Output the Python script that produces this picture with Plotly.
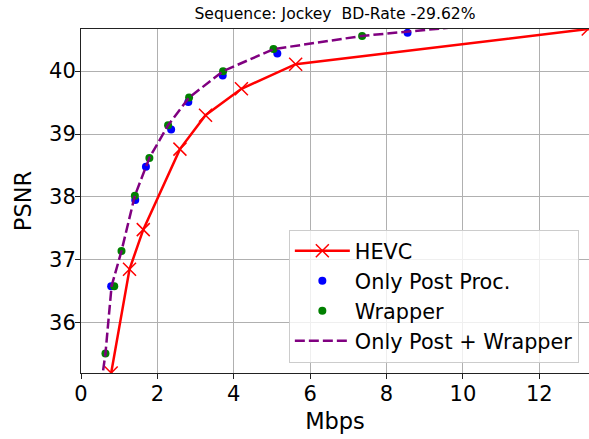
import plotly.graph_objects as go

title_text = "Sequence: Jockey  BD-Rate -29.62%"

hevc_rate = [0.79, 1.27, 1.63, 2.59, 3.26, 4.20, 5.62, 13.28]
hevc_psnr = [35.20, 36.85, 37.48, 38.76, 39.30, 39.72, 40.11, 40.67]

post_rate = [0.79, 1.42, 1.70, 2.36, 2.81, 3.71, 5.14, 8.55]
post_psnr = [36.58, 37.95, 38.48, 39.07, 39.51, 39.93, 40.28, 40.61]

wrap_rate = [0.64, 0.87, 1.06, 1.41, 1.79, 2.28, 2.83, 3.72, 5.04, 7.36]
wrap_psnr = [35.51, 36.58, 37.14, 38.02, 38.62, 39.14, 39.58, 40.00, 40.35, 40.56]

comb_rate = [0.48, 0.64, 0.80, 1.06, 1.41, 1.79, 2.28, 2.83, 3.72, 5.04, 7.36, 10.50]
comb_psnr = [34.80, 35.51, 36.58, 37.14, 38.02, 38.62, 39.14, 39.58, 40.00, 40.35, 40.56, 40.74]

x_range = [0, 13.3]
y_range = [35.2, 40.67]
x_ticks = [0, 2, 4, 6, 8, 10, 12]
y_ticks = [36, 37, 38, 39, 40]

FONT = "DejaVu Sans"

fig = go.Figure()
fig.add_trace(go.Scatter(
    x=hevc_rate, y=hevc_psnr, name="HEVC", mode="lines+markers",
    line=dict(color="red", width=2.5),
    marker=dict(symbol="x-thin", size=13, line=dict(color="red", width=1.5), color="red"),
    legendgroup="a",
))
fig.add_trace(go.Scatter(
    x=post_rate, y=post_psnr, name="Only Post Proc.", mode="markers",
    marker=dict(color="blue", size=8), legendgroup="b",
))
fig.add_trace(go.Scatter(
    x=wrap_rate, y=wrap_psnr, name="Wrapper", mode="markers",
    marker=dict(color="green", size=8), legendgroup="c",
))
fig.add_trace(go.Scatter(
    x=comb_rate, y=comb_psnr, name="Only Post + Wrapper", mode="lines",
    line=dict(color="purple", width=2.5, dash="10px,4px"), legendgroup="d",
))

H = 439
fig.update_layout(
    width=589, height=H,
    margin=dict(l=81, r=0, t=29, b=H - 373, autoexpand=False),
    paper_bgcolor="white", plot_bgcolor="white",
    font=dict(family=FONT, color="black"),
    title=dict(text=title_text, x=0.5, xref="paper", xanchor="center",
               y=1 - 14 / H, yanchor="middle", font=dict(size=15.6)),
    showlegend=True,
    legend=dict(
        x=0.98, y=0.03, xanchor="right", yanchor="bottom",
        bgcolor="rgba(255,255,255,0.8)", bordercolor="#cccccc", borderwidth=1,
        font=dict(size=20.8), itemwidth=55, tracegroupgap=5,
        traceorder="normal",
    ),
)
fig.update_xaxes(
    range=x_range, tickvals=x_ticks, ticks="outside", ticklen=5, tickcolor="#222",
    showline=True, linecolor="#222", linewidth=1, mirror=True, automargin=False,
    showgrid=True, gridcolor="#b0b0b0", gridwidth=1, zeroline=False,
    ticklabelstandoff=-3,
    tickfont=dict(size=21), title=dict(text="Mbps", font=dict(size=22.5), standoff=8),
)
fig.update_yaxes(
    range=y_range, tickvals=y_ticks, ticks="outside", ticklen=5, tickcolor="#222",
    showline=True, linecolor="#222", linewidth=1, automargin=False,
    showgrid=True, gridcolor="#b0b0b0", gridwidth=1, zeroline=False,
    ticklabelstandoff=-5,
    tickfont=dict(size=21), title=dict(text="PSNR", font=dict(size=22.5), standoff=11),
)

fig.write_html("out.html", config={"displayModeBar": False},
               post_script="document.body.style.margin='0';")
